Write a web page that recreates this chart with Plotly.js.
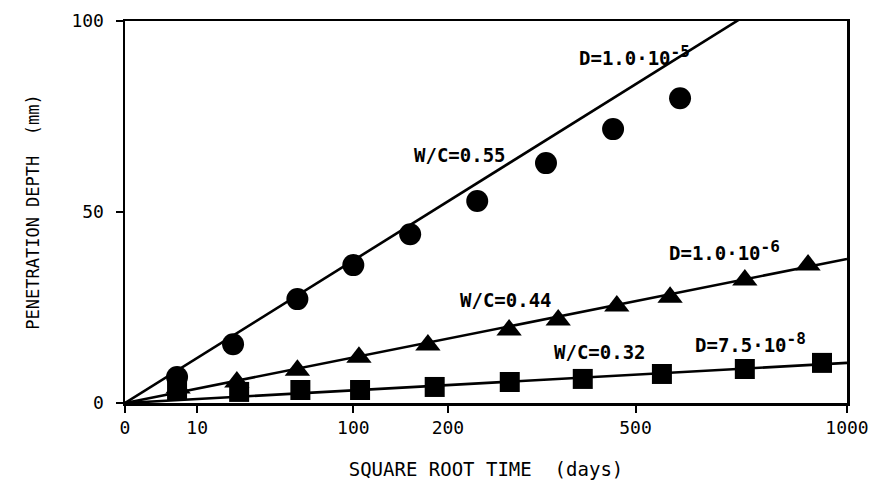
<!DOCTYPE html>
<html>
<head>
<meta charset="utf-8">
<script src="https://cdn.plot.ly/plotly-3.0.1.min.js"></script>
<style>html,body{margin:0;padding:0;background:#fff;}#chart{width:882px;height:486px;}</style>
</head>
<body>
<div id="chart"></div>
<script>
// Measured data (time in days, penetration depth in mm)
const wc055Days  = [5.2, 22.4, 57, 100, 156, 238, 340, 457, 591];
const wc055Depth = [6.8, 15.4, 27.2, 36.1, 44.2, 52.9, 62.8, 71.7, 79.8];

const wc044Days  = [5.4, 24, 57, 105, 176, 283, 360, 464, 570, 737, 895];
const wc044Depth = [3.9, 5.5, 8.6, 12.0, 15.2, 19.1, 21.7, 25.4, 27.7, 32.2, 36.1];

const wc032Days  = [5.2, 25, 59, 106, 184, 284, 402, 553, 737, 932];
const wc032Depth = [3.4, 2.9, 3.4, 3.4, 4.2, 5.5, 6.3, 7.6, 8.9, 10.5];

// Fitted lines (D values): endpoints in days / depth
const fitDays   = [0, 1000];
const fitD1e5   = [0, 118];
const fitD1e6   = [0, 37.7];
const fitD75e8  = [0, 10.5];

const xTickDays   = [0, 10, 100, 200, 500, 1000];
const xTickLabels = ["0", "10", "100", "200", "500", "1000"];
const yTickVals   = [0, 50, 100];

const sq = a => a.map(v => Math.sqrt(v));
const FONT = "DejaVu Sans Mono";

const lineStyle = {color: "#000", width: 2.6};
const traces = [
  {x: sq(fitDays), y: fitD1e5, mode: "lines", line: lineStyle, hoverinfo: "skip"},
  {x: sq(fitDays), y: fitD1e6, mode: "lines", line: lineStyle, hoverinfo: "skip"},
  {x: sq(fitDays), y: fitD75e8, mode: "lines", line: lineStyle, hoverinfo: "skip"},
  {x: sq(wc055Days), y: wc055Depth, mode: "markers", marker: {symbol: "circle", size: 22, color: "#000"}},
  {x: sq(wc044Days), y: wc044Depth, mode: "markers", marker: {symbol: "triangle-up", size: 22, color: "#000"}},
  {x: sq(wc032Days), y: wc032Depth, mode: "markers", marker: {symbol: "square", size: 20, color: "#000"}}
];

const annFont = {family: FONT, size: 19, color: "#000", weight: "bold"};
function ann(text, xs, y) {
  return {text: text, x: xs, y: y, xref: "x", yref: "y", showarrow: false,
          xanchor: "left", yanchor: "middle", font: annFont};
}
const sup = s => "<sup><span style=\"font-size:16px\">" + s + "</span></sup>";

const layout = {
  width: 882, height: 486,
  margin: {l: 125, r: 35, t: 21, b: 83},
  paper_bgcolor: "#fff", plot_bgcolor: "#fff",
  showlegend: false,
  font: {family: FONT, color: "#000", size: 18},
  xaxis: {
    range: [0, Math.sqrt(1000)],
    tickvals: sq(xTickDays), ticktext: xTickLabels,
    ticks: "outside", ticklen: 7, tickwidth: 2, tickcolor: "#000",
    showline: true, linecolor: "#000", linewidth: 2.5, mirror: true,
    showgrid: false, zeroline: false,
    tickfont: {family: FONT, size: 18},
    title: {text: "SQUARE\u00a0ROOT\u00a0TIME\u00a0\u00a0(days)", font: {family: FONT, size: 19}, standoff: 26}
  },
  yaxis: {
    range: [0, 100],
    tickvals: yTickVals,
    ticks: "outside", ticklen: 7, tickwidth: 2, tickcolor: "#000",
    ticklabelstandoff: 8,
    showline: true, linecolor: "#000", linewidth: 2.5, mirror: true,
    showgrid: false, zeroline: false,
    tickfont: {family: FONT, size: 18},
    title: {text: "PENETRATION\u00a0DEPTH\u00a0\u00a0(mm)", font: {family: FONT, size: 17}, standoff: 28}
  },
  annotations: [
    ann("W/C=0.55", 12.57, 64.9),
    ann("D=1.0·10" + sup("-5"), 19.8, 91.0),
    ann("W/C=0.44", 14.58, 27.0),
    ann("D=1.0·10" + sup("-6"), 23.74, 40.0),
    ann("W/C=0.32", 18.7, 13.4),
    ann("D=7.5·10" + sup("-8"), 24.88, 15.8)
  ]
};

Plotly.newPlot("chart", traces, layout, {staticPlot: true, displayModeBar: false});
</script>
</body>
</html>
